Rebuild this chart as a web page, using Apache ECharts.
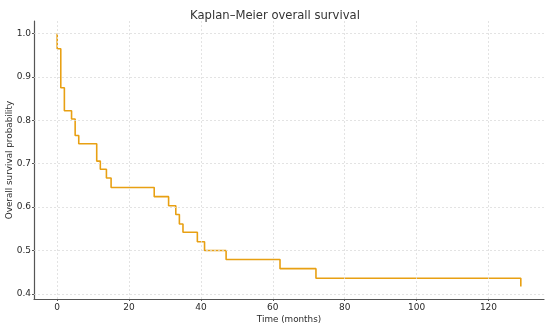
<!DOCTYPE html>
<html><head><meta charset="utf-8">
<script src="https://cdn.jsdelivr.net/npm/echarts@6/dist/echarts.min.js"></script>
<style>html,body{margin:0;padding:0;background:#fff}#c{width:550px;height:328px}</style>
</head><body><div id="c"></div>
<script>
const startSurvival = 1.0;
const eventTimes = [0, 1, 2, 4, 5, 6, 11, 12, 13.7, 15, 27, 31, 33, 34, 35, 39, 41, 47, 62, 72, 129];
const survival = [0.965, 0.875, 0.822, 0.803, 0.765, 0.746, 0.706, 0.687, 0.667, 0.645, 0.624, 0.603, 0.583, 0.561, 0.542, 0.520, 0.500, 0.479, 0.458, 0.436, 0.417];
const xTicks = [0, 20, 40, 60, 80, 100, 120];
const yTicks = [0.4, 0.5, 0.6, 0.7, 0.8, 0.9, 1.0];

const data = [[0, startSurvival]].concat(eventTimes.map((t, i) => [t, survival[i]]));
const font = 'DejaVu Sans';
const chart = echarts.init(document.getElementById('c'), null, {renderer: 'canvas'});
chart.setOption({
  animation: false,
  title: {text: 'Kaplan–Meier overall survival', left: 'center', top: 5,
    textStyle: {fontFamily: font, fontSize: 11.6, fontWeight: 'normal', color: '#333'}},
  grid: {left: 34, right: 6, top: 21, bottom: 29, containLabel: false, outerBoundsMode: 'none'},
  xAxis: {type: 'value', min: -6.45, max: 135.45,
    name: 'Time (months)', nameLocation: 'middle', nameGap: 16, nameMoveOverlap: false,
    nameTextStyle: {fontFamily: font, fontSize: 8.8, color: '#2a2a2a'},
    axisLine: {onZero: false, lineStyle: {color: '#555', width: 1.2}},
    axisTick: {show: true, length: 2, lineStyle: {color: '#555'}, customValues: xTicks},
    axisLabel: {fontFamily: font, fontSize: 9, color: '#2a2a2a', margin: 4, customValues: xTicks, hideOverlap: false},
    splitLine: {show: false}},
  yAxis: {type: 'value', min: 0.388, max: 1.029,
    name: 'Overall survival probability', nameLocation: 'middle', nameGap: 20, nameRotate: 90, nameMoveOverlap: false,
    nameTextStyle: {fontFamily: font, fontSize: 8.8, color: '#2a2a2a'},
    axisLine: {show: true, onZero: false, lineStyle: {color: '#555', width: 1.2}},
    axisTick: {show: true, length: 2, lineStyle: {color: '#555'}, customValues: yTicks},
    axisLabel: {fontFamily: font, fontSize: 9, color: '#2a2a2a', margin: 3, customValues: yTicks,
      formatter: v => v.toFixed(1)},
    splitLine: {show: false}},
  series: [
    {type: 'line', step: 'end', data: data, symbol: 'none',
     lineStyle: {color: '#E8A013', width: 1.6}, z: 3},
    {type: 'line', data: [], markLine: {silent: true, symbol: 'none', label: {show: false},
      lineStyle: {color: '#dcdcdc', type: [2, 2], width: 0.8},
      data: xTicks.map(v => ({xAxis: v})).concat(yTicks.map(v => ({yAxis: v})))}, z: 1}
  ]
});
</script></body></html>
